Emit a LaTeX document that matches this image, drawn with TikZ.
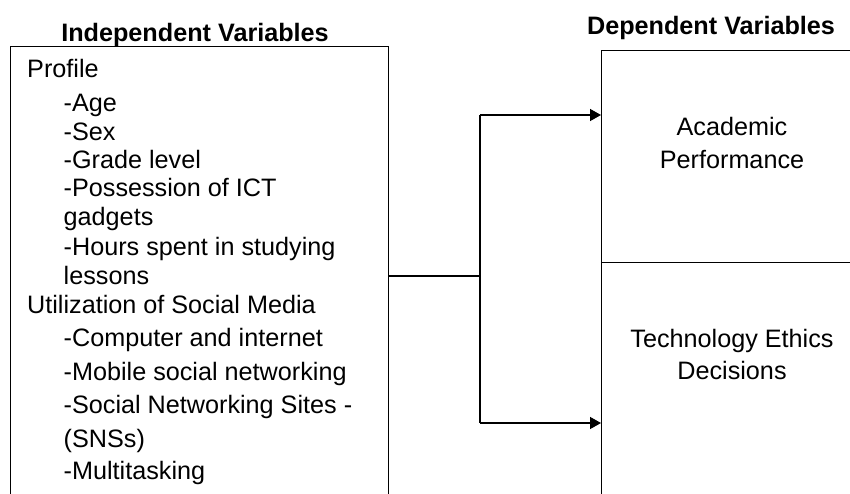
\documentclass[tikz,border=0pt]{standalone}
\usepackage{fontspec}
\setmainfont{Liberation Sans}
\usetikzlibrary{arrows.meta}
\tikzset{
  frame/.style={draw=black, line width=1.4pt, inner sep=0pt},
  conn/.style={draw=black, line width=1.4pt},
  arr/.style={conn, -{Triangle[length=11pt,width=12pt]}},
  txt/.style={inner sep=0pt, text height=17.8pt, text depth=0pt, font=\fontsize{25.2}{29}\selectfont},
  lefttxt/.style={txt, anchor=west},
  title/.style={txt, font=\fontsize{25.2}{29}\selectfont\bfseries},
}
\begin{document}
\begin{tikzpicture}[x=1pt,y=-1pt]
\clip (0,0) rectangle (850,493);
\fill[white] (0,0) rectangle (850,493);
% boxes
\node[frame, minimum width=378pt, minimum height=480pt, anchor=north west] (indep) at (10,46) {};
\node[frame, minimum width=280pt, minimum height=212pt, anchor=north west] (acad) at (601,50) {};
\node[frame, minimum width=280pt, minimum height=260pt, anchor=north west] (tech) at (601,262) {};
% titles
\node[title] (t1) at (195,32.5) {Independent Variables};
\node[title] (t2) at (711,26) {Dependent Variables};
% left texts
\node[lefttxt] (p0) at (27,68.7) {Profile};
\node[lefttxt] (p1) at (63.5,103) {-Age};
\node[lefttxt] (p2) at (63.5,131.5) {-Sex};
\node[lefttxt] (p3) at (63.5,160) {-Grade level};
\node[lefttxt] (p4) at (63.5,188) {-Possession of ICT};
\node[lefttxt] (p5) at (63.5,216.5) {gadgets};
\node[lefttxt] (p6) at (63.5,246.5) {-Hours spent in studying};
\node[lefttxt] (p7) at (63.5,276) {lessons};
\node[lefttxt] (u0) at (27,304.7) {Utilization of Social Media};
\node[lefttxt] (u1) at (63.5,338) {-Computer and internet};
\node[lefttxt] (u2) at (63.5,371.3) {-Mobile social networking};
\node[lefttxt] (u3) at (63.5,404.7) {-Social Networking Sites -};
\node[lefttxt] (u4) at (63.5,439) {(SNSs)};
\node[lefttxt] (u5) at (63.5,470.5) {-Multitasking};
% right texts
\node[txt] (a1) at (732,126.7) {Academic};
\node[txt] (a2) at (732,159.7) {Performance};
\node[txt] (e1) at (732,338.3) {Technology Ethics};
\node[txt] (e2) at (732,371) {Decisions};
% connectors
\coordinate (j) at (480,276);
\coordinate (ja) at (480,115);
\coordinate (jt) at (480,423);
\draw[conn] (indep.east |- j) -- (j);
\draw[conn] (ja) -- (jt);
\draw[arr] (ja) -- (ja -| acad.west);
\draw[arr] (jt) -- (jt -| tech.west);
\end{tikzpicture}
\end{document}
